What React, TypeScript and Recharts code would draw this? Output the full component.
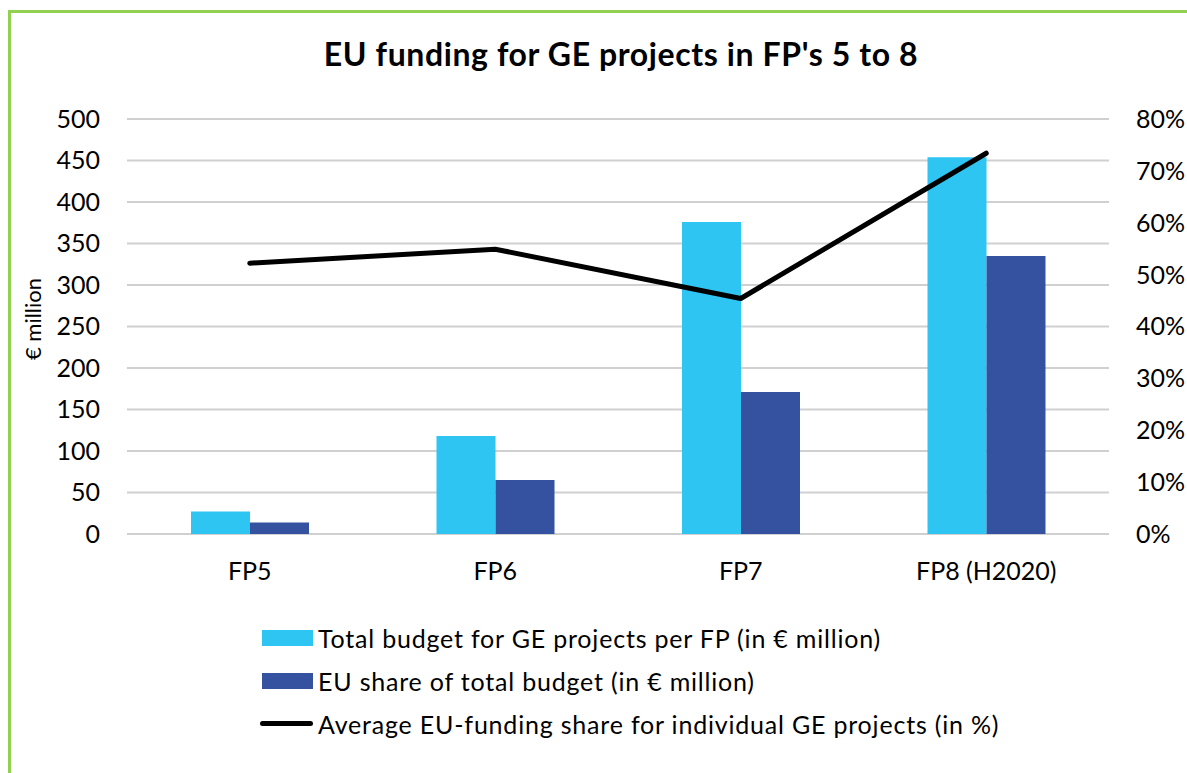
import {
  ComposedChart,
  Bar,
  Line,
  XAxis,
  YAxis,
  CartesianGrid,
  Legend,
} from "recharts";

const categories = ["FP5", "FP6", "FP7", "FP8 (H2020)"];
const totalBudget = [27, 118, 376, 454];
const euShare = [14, 65, 171, 335];
const avgShare = [52.2, 54.9, 45.4, 73.4];
const leftTicks = [0, 50, 100, 150, 200, 250, 300, 350, 400, 450, 500];
const rightTicks = [0, 10, 20, 30, 40, 50, 60, 70, 80];

const LIGHT = "#2EC5F3";
const DARK = "#3552A0";
const FONT = "Lato, 'Open Sans', sans-serif";

const data = categories.map((name, i) => ({
  name,
  total: totalBudget[i],
  eu: euShare[i],
  avg: avgShare[i],
}));

const legendItems = [
  { label: "Total budget for GE projects per FP (in € million)", kind: "bar", color: LIGHT },
  { label: "EU share of total budget (in € million)", kind: "bar", color: DARK },
  { label: "Average EU-funding share for individual GE projects (in %)", kind: "line", color: "#000" },
];

function LegendBox() {
  return (
    <div style={{ height: 179, paddingTop: 22, boxSizing: "border-box", paddingLeft: 249 }}>
      {legendItems.map((it) => (
        <div
          key={it.label}
          style={{
            height: 43,
            display: "flex",
            alignItems: "center",
            fontFamily: FONT,
            fontSize: 25,
            letterSpacing: 0.8,
            color: "#000",
          }}
        >
          {it.kind === "bar" ? (
            <span style={{ width: 51, height: 16, background: it.color, display: "inline-block", marginLeft: 2 }} />
          ) : (
            <span style={{ width: 53, height: 5, borderRadius: 3, background: it.color, display: "inline-block" }} />
          )}
          <span style={{ marginLeft: 5, whiteSpace: "nowrap" }}>{it.label}</span>
        </div>
      ))}
    </div>
  );
}

export default function App() {
  return (
    <div
      style={{
        position: "absolute",
        left: 8,
        top: 10,
        width: 1179,
        height: 763,
        boxSizing: "border-box",
        borderTop: "3px solid #92D050",
        borderLeft: "3px solid #92D050",
        background: "#fff",
        overflow: "hidden",
      }}
    >
      <div
        style={{
          position: "absolute",
          left: 610,
          top: 25,
          transform: "translateX(-50%)",
          fontFamily: FONT,
          fontWeight: 700,
          fontSize: 32,
          letterSpacing: 0.6,
          lineHeight: "32px",
          whiteSpace: "nowrap",
          color: "#000",
        }}
      >
        EU funding for GE projects in FP's 5 to 8
      </div>
      <ComposedChart
        width={1176}
        height={760}
        data={data}
        margin={{ top: 106, right: 0, left: 0, bottom: 0 }}
        barGap={0}
        style={{ fontFamily: FONT }}
      >
        <CartesianGrid vertical={false} stroke="#D0D0D0" strokeWidth={2} yAxisId="left" />
        <XAxis
          dataKey="name"
          height={60}
          axisLine={false}
          tickLine={false}
          tickSize={0}
          tickMargin={28}
          tick={{ fill: "#000", fontSize: 25 }}
        />
        <YAxis
          yAxisId="left"
          width={116}
          domain={[0, 500]}
          ticks={leftTicks}
          axisLine={false}
          tickLine={false}
          tickSize={0}
          tickMargin={27}
          tick={{ fill: "#000", fontSize: 25 }}
          label={{
            content: () => (
              <text
                x={21}
                y={306}
                transform="rotate(-90 21 306)"
                textAnchor="middle"
                dominantBaseline="central"
                fontSize={22}
                fill="#000"
              >
                € million
              </text>
            ),
          }}
        />
        <YAxis
          yAxisId="right"
          orientation="right"
          width={78}
          domain={[0, 80]}
          ticks={rightTicks}
          axisLine={false}
          tickLine={false}
          tickSize={0}
          tickMargin={27}
          tickFormatter={(v) => `${v}%`}
          tick={{ fill: "#000", fontSize: 25, textAnchor: "start" }}
        />
        <Legend verticalAlign="bottom" layout="horizontal" content={() => <LegendBox />} />
        <Bar yAxisId="left" dataKey="total" fill={LIGHT} barSize={59} isAnimationActive={false} />
        <Bar yAxisId="left" dataKey="eu" fill={DARK} barSize={59} isAnimationActive={false} />
        <Line
          yAxisId="right"
          dataKey="avg"
          type="linear"
          stroke="#000"
          strokeWidth={5}
          dot={false}
          activeDot={false}
          strokeLinecap="round"
          strokeLinejoin="round"
          isAnimationActive={false}
        />
      </ComposedChart>
    </div>
  );
}
